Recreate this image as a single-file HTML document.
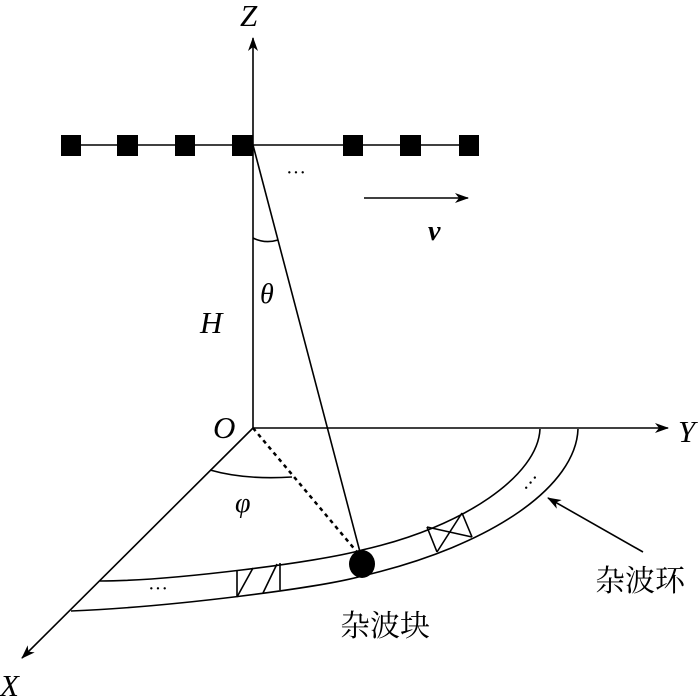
<!DOCTYPE html>
<html><head><meta charset="utf-8"><style>
html,body{margin:0;padding:0;background:#fff;}
svg{display:block;}
.t{font-family:"Liberation Serif",serif;font-style:italic;}
.c{font-family:"Liberation Serif","Noto Serif CJK SC","Noto Sans CJK SC",serif;}
</style></head><body>
<svg width="700" height="696" viewBox="0 0 700 696" xmlns="http://www.w3.org/2000/svg">
<defs>
<marker id="a" markerWidth="14" markerHeight="10" refX="13" refY="5" orient="auto" markerUnits="userSpaceOnUse">
<path d="M0,0 L14,5 L0,10 L4,5 Z" fill="#000"/>
</marker>
</defs>
<g stroke="#000" stroke-width="1.6" fill="none">
<line x1="253" y1="428" x2="253" y2="38" marker-end="url(#a)"/>
<line x1="253" y1="428" x2="668" y2="428" marker-end="url(#a)"/>
<line x1="253" y1="428" x2="22" y2="658" marker-end="url(#a)"/>
<line x1="70" y1="145" x2="470" y2="145"/>
<line x1="364" y1="198" x2="468" y2="198" marker-end="url(#a)"/>
<line x1="253" y1="145" x2="360" y2="552"/>
<path d="M253,238 Q265,244 278,240"/>
<line x1="253" y1="428" x2="357" y2="552" stroke-dasharray="4,4" stroke-width="2.5"/>
<path d="M210,470 Q245,480 292,477"/>
<path d="M540,429 C538,475 465,527 362,550 C320,562 170,581 100,581"/>
<path d="M578,429 C576,485 495,545 362,576 C320,588 170,607 71,611"/>
<line x1="237" y1="570" x2="237" y2="597"/>
<line x1="280" y1="563" x2="280" y2="590"/>
<line x1="237" y1="597" x2="253" y2="568"/>
<line x1="263" y1="593" x2="277" y2="564"/>
<line x1="427" y1="527" x2="437" y2="552"/>
<line x1="462" y1="513" x2="472" y2="537"/>
<line x1="427" y1="527" x2="472" y2="537"/>
<line x1="462" y1="513" x2="437" y2="552"/>
<line x1="643" y1="552" x2="548" y2="498" marker-end="url(#a)"/>
</g>
<g fill="#000">
<rect x="61" y="135" width="20" height="21"/>
<rect x="117" y="135" width="21" height="21"/>
<rect x="175" y="135" width="20" height="21"/>
<rect x="232" y="135" width="21" height="21"/>
<rect x="343" y="135" width="20" height="21"/>
<rect x="400" y="135" width="21" height="21"/>
<rect x="459" y="135" width="20" height="21"/>
<ellipse cx="362" cy="564" rx="13" ry="14"/>
</g>
<g class="t" font-size="31" fill="#000">
<text x="240" y="26">Z</text>
<text x="678" y="442">Y</text>
<text x="0" y="696">X</text>
<text x="213" y="438">O</text>
<text x="200" y="333">H</text>
<text x="260" y="303" font-size="28">θ</text>
<text x="235" y="512" font-size="28">φ</text>
<text x="428" y="240" font-size="28" font-weight="bold">v</text>
</g>
<g font-family="Liberation Serif,serif" font-size="20" fill="#000">
<text x="286" y="179">···</text>
<text x="148" y="595">···</text>
<text x="521" y="489" transform="rotate(-50 531 483)">···</text>
</g>
<g class="c" font-size="30" fill="#000">
<text x="595" y="591">杂波环</text>
<text x="340" y="636">杂波块</text>
</g>
</svg>
</body></html>
